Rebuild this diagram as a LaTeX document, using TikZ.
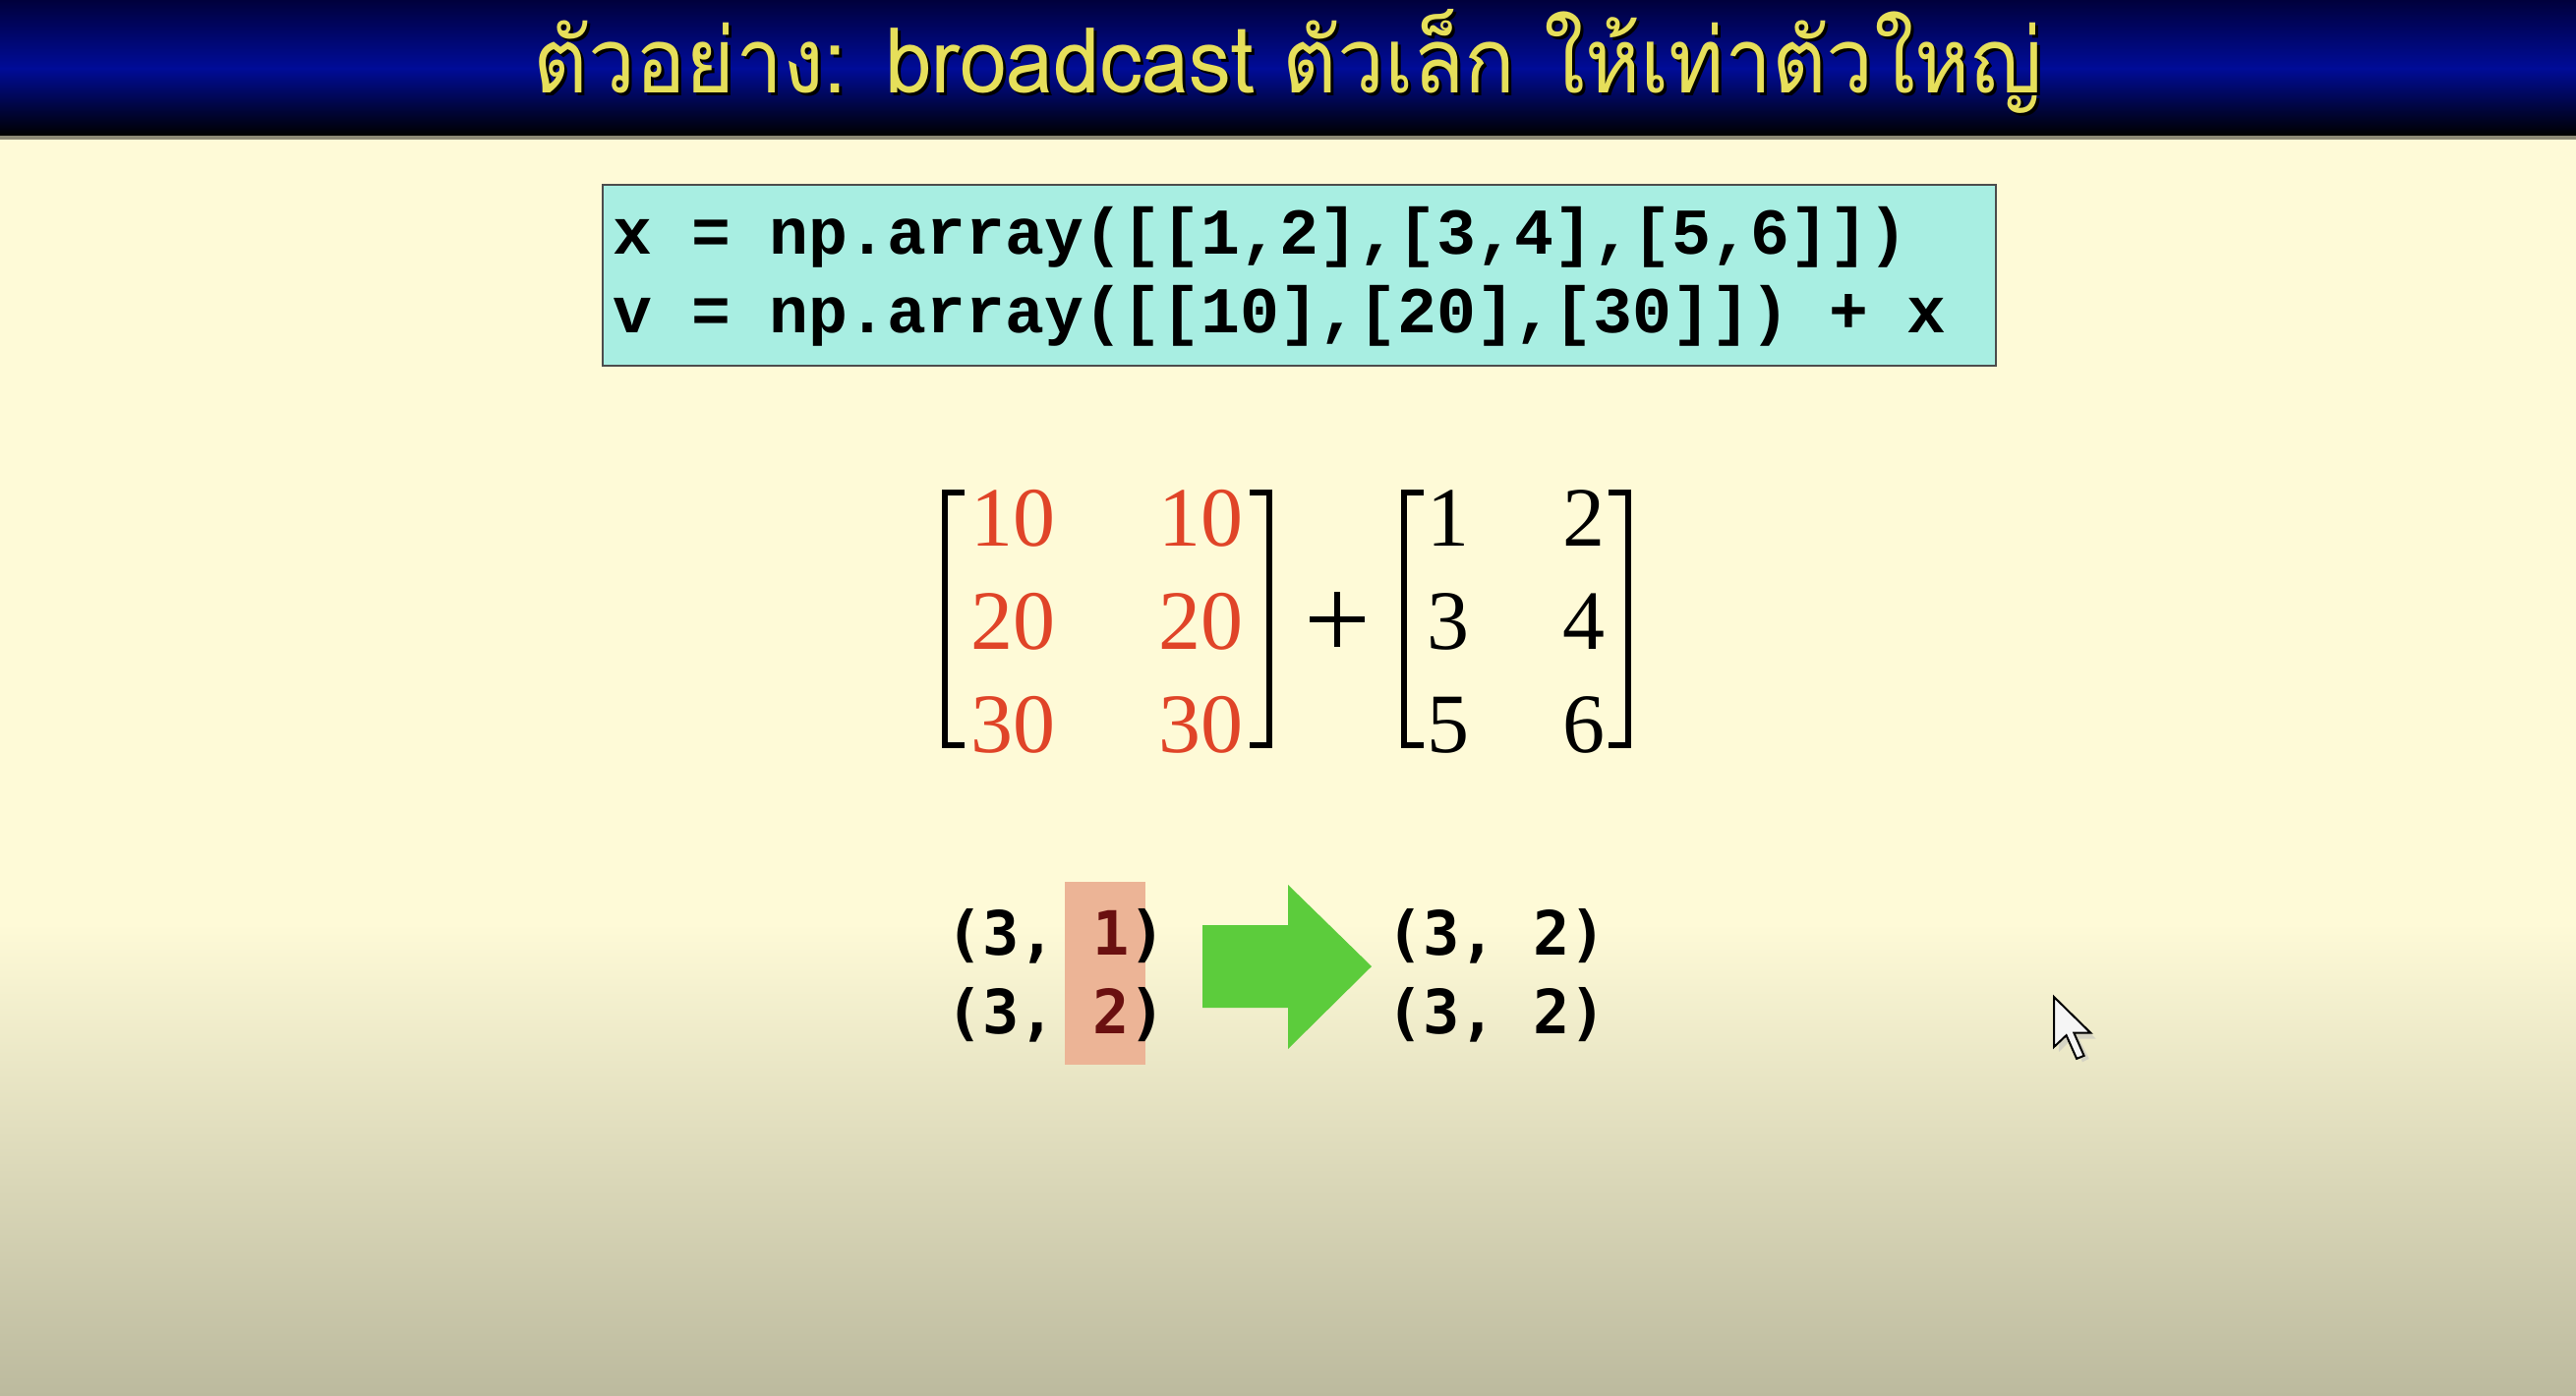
\documentclass[tikz,border=0pt]{standalone}
\usepackage{fontspec}
\newfontfamily\thaifont[Script=Thai]{Loma}
\newfontfamily\codefont{Liberation Mono}
\newfontfamily\monofont{DejaVu Sans Mono}
\newfontfamily\matfont{Liberation Serif}
\definecolor{titleyellow}{HTML}{E6DF5A}
\definecolor{navytop}{HTML}{00003C}
\definecolor{navymid}{HTML}{000C98}
\definecolor{cream}{HTML}{FEFAD7}
\definecolor{beige}{HTML}{BCBA9E}
\definecolor{codebg}{HTML}{A8EEE2}
\definecolor{matred}{HTML}{E04428}
\definecolor{hilite}{HTML}{ECB496}
\definecolor{darkred}{HTML}{6A1010}
\definecolor{arrowgreen}{HTML}{5CCC3C}
\tikzset{
  codeline/.style={anchor=base west, inner sep=0pt, font=\codefont\bfseries\fontsize{66.5}{70}\selectfont},
  redcell/.style={anchor=base, inner sep=0pt, text=matred, font=\matfont\fontsize{86}{90}\selectfont},
  blackcell/.style={anchor=base, inner sep=0pt, text=black, font=\matfont\fontsize{86}{90}\selectfont},
  shapetext/.style={anchor=base west, inner sep=0pt, font=\monofont\bfseries\fontsize{62}{66}\selectfont},
  brack/.style={line width=6pt, line cap=butt, line join=miter},
  titletext/.style={anchor=base, inner sep=0pt}
}
\newcommand{\titlestr}{\scalebox{0.93}[1]{\thaifont\fontsize{92}{100}\selectfont ตัวอย่าง: broadcast ตัวเล็ก ให้เท่าตัวใหญ่}}
\begin{document}
\begin{tikzpicture}[x=1pt,y=-1pt]
\useasboundingbox (0,0) rectangle (2620,1420);
% body background
\fill[cream] (0,140) rectangle (2620,940);
\shade[top color=cream, bottom color=beige] (0,939) rectangle (2620,1420);
% title bar
\shade[top color=navytop, bottom color=navymid] (0,0) rectangle (2620,70);
\shade[top color=navymid, bottom color=black] (0,69.5) rectangle (2620,138);
\fill[black!45!cream] (0,138) rectangle (2620,142);
\node[titletext, text=black] (titleshadow) at (1313,98) {\titlestr};
\node[titletext, text=titleyellow] (title) at (1310,95) {\titlestr};
% code box
\node[draw=black!70, line width=2pt, fill=codebg, anchor=north west, minimum width=1417pt, minimum height=184pt, inner sep=0pt] (codebox) at (612,187) {};
\node[codeline] (code1) at (623,259) {x = np.array([[1,2],[3,4],[5,6]])};
\node[codeline] (code2) at (623,339) {v = np.array([[10],[20],[30]]) + x};
% matrix 1
\node[redcell] (a11) at (1030,555) {10};
\node[redcell] (a12) at (1221,555) {10};
\node[redcell] (a21) at (1030,660) {20};
\node[redcell] (a22) at (1221,660) {20};
\node[redcell] (a31) at (1030,765) {30};
\node[redcell] (a32) at (1221,765) {30};
\draw[brack] (981,501) -- (961,501) -- (961,758) -- (981,758);
\draw[brack] (1271,501) -- (1291,501) -- (1291,758) -- (1271,758);
\coordinate (plus) at (1360,630);
\draw[line width=6pt] ([xshift=-28pt]plus) -- ([xshift=28pt]plus);
\draw[line width=6pt] ([yshift=-28pt]plus) -- ([yshift=28pt]plus);
% matrix 2
\node[blackcell] (b11) at (1473,555) {1};
\node[blackcell] (b12) at (1611,555) {2};
\node[blackcell] (b21) at (1473,660) {3};
\node[blackcell] (b22) at (1611,660) {4};
\node[blackcell] (b31) at (1473,765) {5};
\node[blackcell] (b32) at (1611,765) {6};
\draw[brack] (1448,501) -- (1428,501) -- (1428,758) -- (1448,758);
\draw[brack] (1636,501) -- (1656,501) -- (1656,758) -- (1636,758);
% shapes
\fill[hilite] (1083,897) rectangle (1165,1083);
\node[shapetext] (s1) at (962,971) {(3, {\color{darkred}1})};
\node[shapetext] (s2) at (962,1051) {(3, {\color{darkred}2})};
\fill[arrowgreen] (1223,941) -- (1310,941) -- (1310,900) -- (1395,983) -- (1310,1067) -- (1310,1025) -- (1223,1025) -- cycle;
\node[shapetext] (t1) at (1410,971) {(3, 2)};
\node[shapetext] (t2) at (1410,1051) {(3, 2)};
% mouse cursor
\begin{scope}[shift={(2089,1014)}, scale=3.4]
\fill[black!25, opacity=0.5] (1.5,1.5) -- (1.5,16.5) -- (5.5,12.5) -- (8.5,19.5) -- (10.5,18.5) -- (7.5,12.5) -- (12.5,12.5) -- cycle;
\draw[fill=black!4, line width=2pt, line join=miter] (0,0) -- (0,15) -- (3.7,11.5) -- (6.8,18.5) -- (9,17.6) -- (6,10.8) -- (11,10.8) -- cycle;
\end{scope}
\end{tikzpicture}
\end{document}
